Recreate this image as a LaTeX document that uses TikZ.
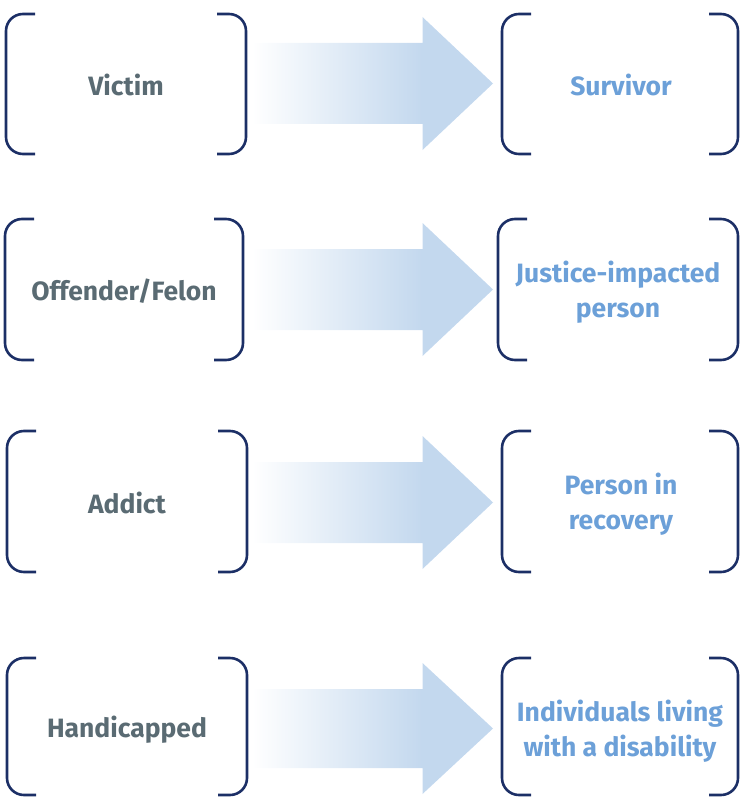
\documentclass[tikz,border=0pt]{standalone}
\usepackage{fontspec}
\setmainfont{Fira Sans}
\definecolor{navy}{HTML}{1C2F66}
\definecolor{oldtxt}{HTML}{5A6B73}
\definecolor{newtxt}{HTML}{6CA0D8}
\definecolor{arrowblue}{HTML}{C3D8EE}
\pgfdeclarehorizontalshading{arrowshade}{100bp}{color(0bp)=(white); color(25bp)=(white); color(60.3bp)=(arrowblue); color(100bp)=(arrowblue)}
\newcommand\bracketbox[4]{%
  \draw[bracket] (#1+29,#2) -- (#1,#2) -- (#1,#4) -- (#1+29,#4);
  \draw[bracket] (#3-29,#2) -- (#3,#2) -- (#3,#4) -- (#3-29,#4);
}
\newcommand\bigarrow[2]{% top of head, bottom of head
  \path[shading=arrowshade] (252,#1+26) -- (422.5,#1+26) -- (422.5,#1) -- (493,{(#1+#2)/2}) -- (422.5,#2) -- (422.5,#2-26) -- (252,#2-26) -- cycle;
}
\tikzset{
  bracket/.style={draw=navy, line width=2.6pt, rounded corners=17pt},
  oldlabel/.style={font=\fontsize{26.5}{35}\selectfont\bfseries, text=oldtxt, align=center},
  newlabel/.style={font=\fontsize{26.5}{35}\selectfont\bfseries, text=newtxt, align=center},
}
\begin{document}
\begin{tikzpicture}[x=1pt,y=-1pt]
\useasboundingbox (0,0) rectangle (739,797);
% row 1
\bracketbox{6}{14}{246}{154}
\bracketbox{502}{14}{738}{154}
\bigarrow{17}{150}
\node[oldlabel] (victim) at (126,85) {Victim};
\node[newlabel] (survivor) at (621,85) {Survivor};
% row 2
\bracketbox{5}{219}{243}{360}
\bracketbox{498}{219}{738}{360}
\bigarrow{223}{356}
\node[oldlabel] (offender) at (124,291) {Offender/Felon};
\node[newlabel] (justice) at (618,292) {Justice-impacted\\person};
% row 3
\bracketbox{7}{431}{247}{572}
\bracketbox{502}{431}{738}{572}
\bigarrow{436}{569}
\node[oldlabel] (addict) at (127,503) {Addict};
\node[newlabel] (recovery) at (621,504) {Person in\\recovery};
% row 4
\bracketbox{7}{658}{247}{795}
\bracketbox{502}{658}{738}{795}
\bigarrow{663}{794}
\node[oldlabel] (handicapped) at (127,730) {Handicapped};
\node[newlabel] (disability) at (620,731) {Individuals living\\with a disability};
\end{tikzpicture}
\end{document}
